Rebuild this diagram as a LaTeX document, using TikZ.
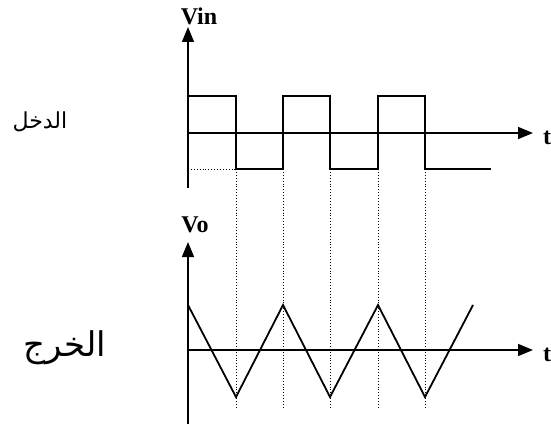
\documentclass[tikz,border=0pt]{standalone}
\usepackage{fontspec}
\setmainfont{Liberation Serif}
\newfontfamily\arabicfont[Script=Arabic]{DejaVu Sans}
\TeXXeTstate=1
\usepackage{tikz}
\usetikzlibrary{arrows.meta}

\begin{document}
\begin{tikzpicture}[
      x=1pt, y=-1pt,
      >={Triangle[length=15pt,width=12pt]},
      axis/.style={->, line width=1.6pt},
      wave/.style={line width=1.8pt, line join=miter},
      guide/.style={dotted, line width=0.9pt},
      lab/.style={font=\fontsize{24}{28}\selectfont\bfseries, inner sep=0pt},
      arlab/.style={inner sep=0pt},
    ]
    \useasboundingbox (0,0) rectangle (551,425);

    % input axes
    \coordinate (o1) at (188,133);
    \coordinate (y1b) at (188,188);
    \coordinate (y1t) at (188,27);
    \coordinate (x1r) at (533,133);
    \draw[axis] (y1b) -- (y1t);
    \draw[axis] (o1) -- (x1r);
    \node[lab] (vin) at (199,16) {Vin};
    \node[lab, anchor=west] (t1) at (543,138) {t};
    \node[arlab, font=\fontsize{22}{26}\selectfont] (din) at (40,122)
      {\arabicfont\beginR الدخل\endR};

    % square wave
    \draw[wave] (188,96) -- (236,96) -- (236,169) -- (283,169) -- (283,96)
      -- (330,96) -- (330,169) -- (378,169) -- (378,96) -- (425,96)
      -- (425,169) -- (491,169);

    % output axes
    \coordinate (o2) at (188,350);
    \coordinate (y2b) at (188,424);
    \coordinate (y2t) at (188,242);
    \coordinate (x2r) at (533,350);
    \draw[axis] (y2b) -- (y2t);
    \draw[axis] (o2) -- (x2r);
    \node[lab] (vo) at (195,225) {Vo};
    \node[lab, anchor=west] (t2) at (543,355) {t};
    \node[arlab, font=\fontsize{34}{38}\selectfont] (dout) at (65,348)
      {\arabicfont\beginR الخرج\endR};

    % triangle wave
    \draw[wave] (188,305) -- (236,397) -- (283,305) -- (330,397)
      -- (378,305) -- (425,397) -- (473,305);

    % dotted guides
    \draw[guide] (188,169) -- (236,169);
    \draw[guide] (236,169) -- (236,407);
    \draw[guide] (283,169) -- (283,407);
    \draw[guide] (330,169) -- (330,407);
    \draw[guide] (378,169) -- (378,407);
    \draw[guide] (425,169) -- (425,407);
  \end{tikzpicture}
\end{document}
